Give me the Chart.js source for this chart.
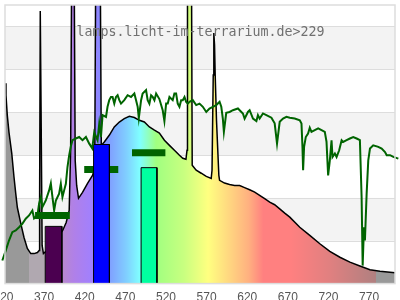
<!DOCTYPE html>
<html>
<head>
<meta charset="utf-8">
<script src="https://cdn.jsdelivr.net/npm/chart.js@4.4.1/dist/chart.umd.min.js"></script>
<style>
  html, body { margin: 0; padding: 0; background: #fff; }
  #wrap { position: relative; width: 400px; height: 300px; }
</style>
</head>
<body>
<div id="wrap"><canvas id="chart-spektrum"></canvas></div>
<script>
// x axis: wavelength in nm, y axis: relative intensity
const tickNm = [320, 370, 420, 470, 520, 570, 620, 670, 720, 770];
const titleText = "lamps.licht-im-terrarium.de>229";

// lamp spectrum (black outline, filled with spectrum colours)
const lampNm = [320.0, 321.2, 322.8, 324.9, 328.3, 331.1, 333.2, 335.2, 339.4, 343.4, 347.5, 351.7, 355.8, 359.9, 362.0, 362.6, 363.4, 364.4, 365.7, 367.3,
  374.3, 381.7, 391.0, 395.3, 399.0, 400.8, 402.1, 405.1, 406.4, 408.2, 410.5, 415.4, 421.6, 427.7, 430.4, 431.7, 437.2, 438.5, 442.2, 448.3,
  454.5, 460.7, 466.8, 473.0, 479.2, 485.4, 491.5, 497.7, 503.9, 510.0, 516.2, 522.4, 528.5, 534.7, 538.8, 542.7, 544.0, 544.6, 549.5, 550.4,
  555.3, 561.5, 567.7, 573.8, 574.8, 576.3, 577.0, 577.9, 578.7, 580.3, 583.2, 584.1, 590.2, 596.4, 602.6, 608.8, 614.9, 621.1, 627.3, 633.4,
  639.6, 645.8, 651.9, 658.1, 664.3, 670.5, 682.8, 695.1, 707.5, 719.8, 732.2, 744.5, 756.8, 769.2, 781.5, 800.0];
const lampVal = [93.5, 87.9, 78.6, 70.6, 60.8, 49.6, 42.1, 35.5, 28.1, 21.5, 16.4, 14.0, 14.0, 14.5, 15.4, 38.8, 127.2, 80.9, 17.8, 14.0,
  16.4, 20.1, 24.8, 28.5, 34.1, 62.2, 150, 150, 57.5, 45.8, 39.8, 42.6, 46.8, 50.5, 53.8, 150, 150, 64.5, 66.1, 69.2,
  73.1, 75.4, 77.0, 78.1, 77.5, 76.2, 75.4, 73.1, 71.6, 70.2, 66.9, 64.5, 62.2, 59.9, 58.5, 58.0, 62.2, 150, 150, 55.2,
  52.9, 51.5, 50.0, 49.1, 52.9, 97.3, 116.9, 111.3, 97.3, 76.2, 50.5, 48.2, 46.9, 46.2, 45.8, 45.8, 44.8, 43.8, 42.7, 41.2,
  39.6, 38.0, 36.8, 34.9, 32.9, 31.0, 26.3, 22.5, 18.6, 15.0, 12.3, 10.0, 8.2, 6.5, 5.8, 5.1];

// daylight reference (green line)
const sunNm = [312.6, 316.7, 320.9, 324.9, 329.0, 333.2, 337.3, 341.3, 345.5, 349.6, 353.7, 355.8, 359.9, 362.0, 364.1, 366.0, 370.2, 374.3, 376.4, 378.4,
  380.5, 382.6, 386.6, 388.7, 390.7, 392.8, 394.9, 396.9, 399.0, 401.1, 403.0, 407.2, 411.3, 415.4, 419.6, 423.7, 427.4, 429.8, 433.9, 436.0,
  438.1, 440.1, 444.3, 446.2, 448.3, 450.4, 452.4, 454.5, 456.6, 458.6, 460.7, 462.8, 466.8, 470.9, 475.1, 479.2, 481.3, 483.3, 484.7, 487.5,
  489.4, 493.6, 495.6, 497.7, 499.8, 501.8, 503.9, 506.0, 510.0, 514.1, 516.2, 518.3, 520.3, 522.4, 526.4, 528.5, 530.6, 532.6, 534.7, 536.8,
  538.8, 540.9, 543.0, 545.0, 547.1, 551.1, 555.3, 559.4, 563.5, 567.7, 571.7, 575.8, 580.0, 584.1, 586.2, 588.1, 589.4, 592.3, 596.4, 600.5,
  606.7, 610.9, 612.8, 614.9, 619.0, 621.1, 625.2, 629.4, 631.3, 633.4, 637.5, 641.7, 647.9, 651.9, 654.8, 658.1, 662.2, 666.4, 670.5, 676.6,
  682.8, 684.9, 686.1, 686.9, 688.1, 690.2, 693.0, 695.1, 697.2, 701.3, 705.4, 709.6, 713.6, 715.7, 717.7, 719.8, 721.9, 723.1, 726.0, 728.1,
  731.3, 734.3, 736.2, 740.4, 744.5, 748.6, 752.8, 756.8, 758.9, 760.2, 761.8, 763.0, 765.1, 767.1, 769.2, 773.2, 779.4, 783.6, 787.7, 789.8,
  793.9, 798.0, 804.1];
const sunVal = [6.4, 10.8, 15.4, 20.1, 24.0, 24.8, 26.3, 27.9, 30.3, 31.8, 34.1, 30.4, 31.8, 37.4, 40.4, 35.7, 38.8, 43.5, 46.8, 40.4,
  34.1, 38.8, 42.0, 46.6, 40.4, 43.5, 46.6, 54.4, 59.9, 64.1, 66.9, 67.7, 68.4, 66.9, 68.4, 65.3, 63.1, 70.6, 66.9, 74.7,
  68.4, 78.6, 77.8, 82.5, 85.6, 87.1, 87.1, 84.0, 87.1, 87.9, 85.6, 84.0, 85.6, 87.9, 87.1, 88.7, 85.6, 82.5, 77.2, 85.6,
  88.7, 90.3, 85.6, 84.0, 87.9, 87.1, 85.6, 88.7, 86.1, 80.9, 75.8, 84.0, 84.0, 87.1, 85.6, 88.7, 88.7, 84.0, 82.5, 85.6,
  85.6, 87.1, 84.8, 84.0, 84.8, 85.6, 83.3, 84.0, 82.5, 80.1, 81.7, 82.5, 83.3, 84.8, 82.5, 77.0, 70.8, 79.7, 80.1, 80.9,
  81.7, 80.1, 79.4, 77.0, 80.1, 80.9, 77.0, 75.8, 78.6, 77.0, 79.4, 78.6, 77.4, 74.8, 65.3, 75.5, 77.0, 77.8, 77.4, 77.0,
  76.2, 74.7, 63.8, 52.9, 63.8, 68.4, 70.0, 72.7, 70.8, 71.6, 72.4, 71.6, 70.8, 66.2, 50.5, 57.5, 66.9, 59.1, 60.7, 59.1,
  62.2, 66.9, 66.1, 66.9, 67.7, 68.4, 67.7, 66.9, 40.4, 8.4, 26.3, 20.1, 42.0, 57.5, 63.0, 64.5, 63.8, 63.0, 61.4, 59.9,
  59.9, 59.1, 58.3];

// band bars: [from nm, to nm], height
const barRanges = [[369.5, 390], [429, 448.5], [487.5, 507]];
const barValues = [26.7, 64.9, 54.1];
const barColors = ["#4b0050", "#0000ff", "#00ffa0"];

// horizontal markers: [from nm, to nm], level
const markRanges = [[357, 399.8], [417.5, 459.4], [476.3, 517.4]];
const markValues = [31.8, 53.2, 61.0];

// colour stops of the spectrum fill
const specStops = [
  [320, "#999999"], [349.5, "#999999"], [350, "#b0a8b0"], [369.5, "#b0a8b0"], [370, "#b888c8"],
  [392, "#b888d0"], [405, "#b080e8"], [428, "#a080ff"], [436, "#8888ff"], [449, "#80a0ff"],
  [470, "#80d0ff"], [486, "#80ffff"], [506, "#a0ff80"], [540, "#c8ff80"], [570, "#ffff80"],
  [600, "#ffd080"], [620, "#ffb080"], [638, "#ff8080"], [672, "#ff8080"], [720, "#e08080"],
  [776, "#b08080"], [777, "#999999"], [800, "#999999"]
];

function spectrumFill(context) {
  const chart = context.chart;
  const area = chart.chartArea;
  if (!area) return null;
  const xs = chart.scales.x;
  const g = chart.ctx.createLinearGradient(area.left, 0, area.right, 0);
  specStops.forEach(([nm, c]) => {
    let p = (xs.getPixelForValue(nm) - area.left) / area.width;
    g.addColorStop(Math.min(1, Math.max(0, p)), c);
  });
  return g;
}

const pts = (xs, ys) => xs.map((x, i) => ({ x: x, y: ys[i] }));

const datasets = [];

datasets.push({
  label: "Tageslicht",
  data: pts(sunNm, sunVal),
  borderColor: "#006400",
  borderWidth: 2,
  pointRadius: 0,
  fill: false,
  clip: false,
  order: 0,
});

barRanges.forEach((r, i) => {
  datasets.push({
    label: "Band " + i,
    data: [{ x: r[0], y: 0 }, { x: r[0], y: barValues[i] }, { x: r[1], y: barValues[i] }, { x: r[1], y: 0 }],
    borderColor: "#000",
    borderWidth: 1,
    backgroundColor: barColors[i],
    pointRadius: 0,
    fill: "origin",
    order: 1,
  });
});

markRanges.forEach((r, i) => {
  datasets.push({
    label: "Mittel " + i,
    data: [{ x: r[0], y: markValues[i] }, { x: r[1], y: markValues[i] }],
    borderColor: "#006400",
    borderWidth: 7,
    borderCapStyle: "butt",
    pointRadius: 0,
    fill: false,
    order: 2,
  });
});

datasets.push({
  label: "Lampe",
  data: pts(lampNm, lampVal),
  borderColor: "#000",
  borderWidth: 1.5,
  backgroundColor: spectrumFill,
  pointRadius: 0,
  fill: "origin",
  order: 3,
});

const bandPlugin = {
  id: "bands",
  beforeDatasetsDraw(chart) {
    const { ctx, chartArea: a, scales } = chart;
    ctx.save();
    ctx.fillStyle = "#f3f3f3";
    [[20, 40], [60, 80], [100, 120]].forEach(([lo, hi]) => {
      const y1 = scales.y.getPixelForValue(hi);
      const y2 = scales.y.getPixelForValue(lo);
      ctx.fillRect(a.left, y1, a.width, y2 - y1);
    });
    ctx.strokeStyle = "#dddddd";
    ctx.lineWidth = 1;
    [20, 40, 60, 80, 100, 120].forEach(v => {
      const y = Math.round(scales.y.getPixelForValue(v)) + 0.5;
      ctx.beginPath();
      ctx.moveTo(a.left, y);
      ctx.lineTo(a.right, y);
      ctx.stroke();
    });
    ctx.restore();
  },
  afterDatasetsDraw(chart) {
    const { ctx, chartArea: a } = chart;
    ctx.save();
    ctx.strokeStyle = "#dddddd";
    ctx.lineWidth = 1.5;
    ctx.strokeRect(a.left, a.top, a.width, a.height);
    ctx.font = '13.3px "DejaVu Sans Mono", monospace';
    ctx.fillStyle = "#707070";
    ctx.textAlign = "center";
    ctx.textBaseline = "alphabetic";
    ctx.fillText(titleText, 200.5, 36);
    ctx.restore();
  }
};

const configSpektrum = {
  type: "line",
  data: { datasets: datasets },
  options: {
    responsive: true,
    maintainAspectRatio: false,
    animation: false,
    layout: { padding: { left: 5, right: 5, top: 5, bottom: -4 } },
    elements: { line: { tension: 0 } },
    plugins: {
      legend: { display: false },
      tooltip: { enabled: false },
    },
    scales: {
      x: {
        type: "linear",
        min: 320,
        max: 800,
        grid: { display: false },
        border: { display: false },
        afterBuildTicks: (s) => { s.ticks = tickNm.map(v => ({ value: v })); },
        afterFit: (s) => { s.paddingLeft = 0; s.paddingRight = 0; },
        ticks: {
          autoSkip: false,
          maxRotation: 0,
          padding: -1,
          labelOffset: -1.5,
          color: "#555",
          font: { family: '"Liberation Sans", Arial, sans-serif', size: 12 },
          callback: (v) => v,
        },
      },
      y: {
        min: 0,
        max: 130,
        grid: { display: false },
        border: { display: false },
        ticks: { display: false },
        afterFit: (s) => { s.width = 0; },
      },
    },
  },
  plugins: [bandPlugin],
};

new Chart(document.getElementById("chart-spektrum"), configSpektrum);
</script>
</body>
</html>
